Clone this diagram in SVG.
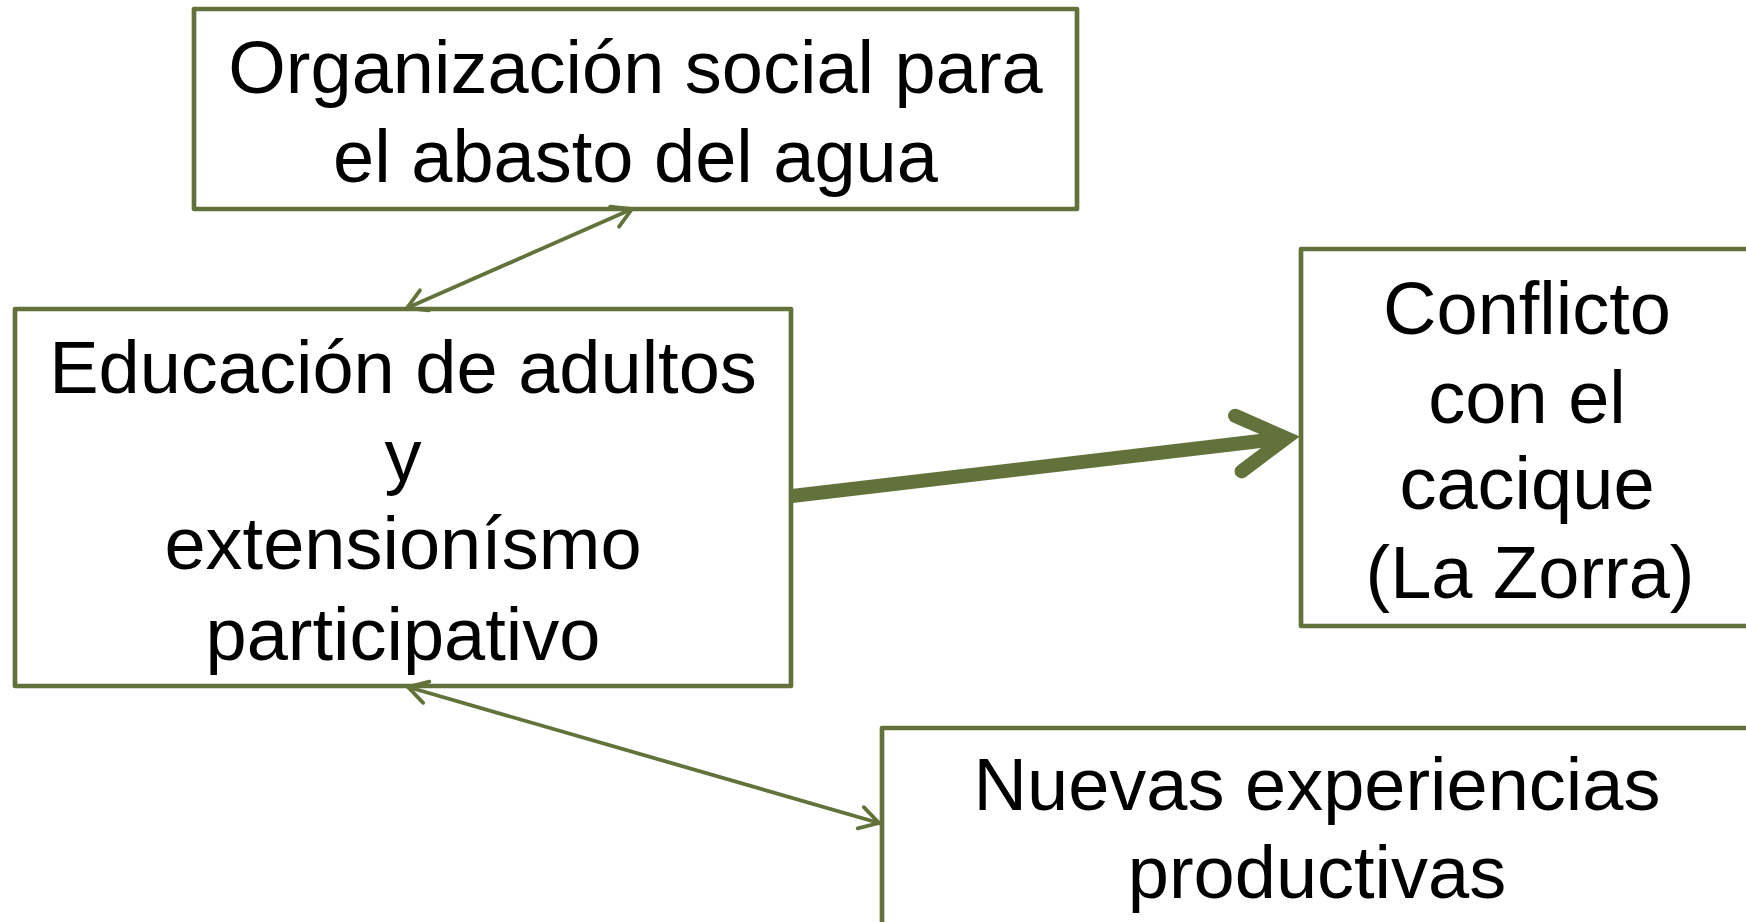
<svg xmlns="http://www.w3.org/2000/svg" width="1746" height="922" viewBox="0 0 1746 922">
  <style>
    .box { fill: #ffffff; stroke: #63723A; stroke-width: 4.7; stroke-linejoin: round; }
    .lbl { font-family: "Liberation Sans", Arial, sans-serif; font-size: 74px; fill: #000000; text-anchor: middle; }
    .thin { fill: none; stroke: #63723A; stroke-width: 3.8; stroke-linecap: round; }
    .thick { fill: none; stroke: #63723A; stroke-width: 14; stroke-linecap: butt; }
  </style>
  <defs>
    <marker id="openHead" markerUnits="userSpaceOnUse" orient="auto-start-reverse" refX="0" refY="0" markerWidth="60" markerHeight="60" overflow="visible">
      <path d="M -19,-11 L 0,0 L -19,11" fill="none" stroke="#63723A" stroke-width="3.8" stroke-linecap="round" stroke-linejoin="miter"/>
    </marker>
    <marker id="thickHead" markerUnits="userSpaceOnUse" orient="auto" refX="0" refY="0" markerWidth="120" markerHeight="120" overflow="visible">
      <path d="M -48,-28 L 0,0 L -48,28" fill="none" stroke="#63723A" stroke-width="14" stroke-linecap="round" stroke-linejoin="miter" stroke-miterlimit="10"/>
    </marker>
  </defs>
  <rect width="1746" height="922" fill="#ffffff"/>

  <g id="node-organizacion">
    <rect class="box" x="194" y="9" width="883" height="200"/>
    <text class="lbl" x="635.5" y="92.7">Organización social para</text>
    <text class="lbl" x="635.5" y="181.7">el abasto del agua</text>
  </g>

  <g id="node-educacion">
    <rect class="box" x="15" y="309" width="776" height="377"/>
    <text class="lbl" x="403" y="393">Educación de adultos</text>
    <text class="lbl" x="403" y="481">y</text>
    <text class="lbl" x="403" y="569">extensionísmo</text>
    <text class="lbl" x="403" y="660">participativo</text>
  </g>

  <g id="node-conflicto">
    <rect class="box" x="1301" y="249" width="451" height="377"/>
    <text class="lbl" x="1527" y="334">Conflicto</text>
    <text class="lbl" x="1527" y="423">con el</text>
    <text class="lbl" x="1527" y="509">cacique</text>
    <text class="lbl" x="1530" y="598">(La Zorra)</text>
  </g>

  <g id="node-nuevas">
    <rect class="box" x="882" y="728" width="870" height="210"/>
    <text class="lbl" x="1317" y="810">Nuevas experiencias</text>
    <text class="lbl" x="1317" y="898">productivas</text>
  </g>

  <g id="connectors">
    <line class="thin" x1="632" y1="209" x2="407" y2="308" marker-start="url(#openHead)" marker-end="url(#openHead)"/>
    <line class="thin" x1="408" y1="687" x2="879" y2="823" marker-start="url(#openHead)" marker-end="url(#openHead)"/>
    <line class="thick" x1="792" y1="496" x2="1286" y2="438" marker-end="url(#thickHead)"/>
  </g>
</svg>
